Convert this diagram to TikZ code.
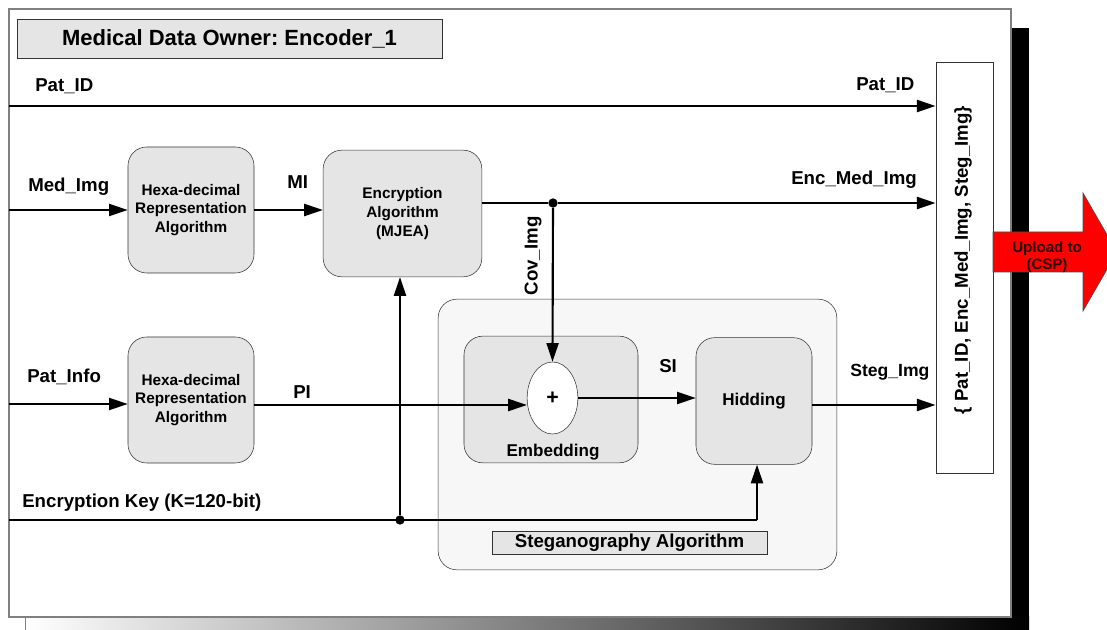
\documentclass[tikz,border=0pt]{standalone}
\usepackage{fontspec}
\setmainfont{Liberation Sans}
\usetikzlibrary{positioning,arrows.meta,shapes.geometric}
\frenchspacing

\begin{document}
\begin{tikzpicture}
[
x=0.75pt, y=-0.75pt,
frame-box/.style={draw=black!50, fill=white, line width=0.8pt},
title-box/.style={rectangle, draw=black!80, fill=black!10, minimum width=319pt, minimum height=29pt, font=\fontsize{16.5}{18}\selectfont\bfseries},
algo-box/.style={rectangle, rounded corners=14pt, draw=black!80, fill=black!10, minimum height=95pt, align=center, font=\fontsize{11.5}{14}\selectfont\bfseries},
stego-box/.style={rectangle, rounded corners=14pt, draw=black!80, fill=black!3, minimum width=299pt, minimum height=203pt},
inner-box/.style={algo-box, font=\fontsize{12.8}{15}\selectfont\bfseries},
plus-ell/.style={ellipse, draw=black!80, fill=white, minimum width=38pt, minimum height=54pt, inner sep=0pt, font=\fontsize{16}{18}\selectfont\bfseries},
label-box/.style={rectangle, draw=black!80, fill=black!10, minimum width=206pt, minimum height=17pt, inner sep=1pt, font=\fontsize{14}{15}\selectfont\bfseries},
out-box/.style={rectangle, draw=black!80, fill=white, minimum width=43pt, minimum height=308pt},
text-a/.style={anchor=base west, inner sep=0pt, font=\fontsize{14}{16}\selectfont\bfseries},
text-b/.style={inner sep=0pt, font=\fontsize{14}{16}\selectfont\bfseries},
line-a/.style={line width=1.6pt},
arrow-a/.style={line width=1.6pt, -{Triangle[length=14pt,width=9pt]}},
joint/.style={circle, fill=black, inner sep=0pt, minimum size=7pt}
]
\useasboundingbox (0,0) rectangle (1107,630);

% shadow and frame
\fill [black] (1011,28) rectangle (1029,630);
\shade [left color=white, right color=black] (25,617) rectangle (1029,630);
\draw [black!50] (25,617) -- (25,630);
\draw [frame-box] (9,9) rectangle (1011,617);

% blocks
\node (title)      [title-box]                                      at (229.5,38.5) {Medical Data Owner: Encoder\_1};
\node (hexa-mi)    [algo-box, minimum width=94.5pt, minimum height=94.5pt] at (191,210)  {Hexa-decimal\\Representation\\Algorithm};
\node (enc-alg)    [algo-box, minimum width=119pt]                  at (402.5,213.5) {Encryption\\Algorithm\\(MJEA)};
\node (hexa-pi)    [algo-box, minimum width=94.5pt, minimum height=94.5pt] at (191,400)  {Hexa-decimal\\Representation\\Algorithm};
\node (stego)      [stego-box]                                      at (637.5,434.5) {};
\node (embed)      [inner-box, minimum width=130.5pt]               at (551,399.5) {};
\node (plus)       [plus-ell]                                       at (552.5,398) {+};
\node (embed-txt)  [text-b, font=\fontsize{12.8}{15}\selectfont\bfseries] at (553,452) {Embedding};
\node (hidding)    [inner-box, minimum width=87pt]                  at (754,401) {Hidding};
\node (steg-alg)   [label-box]                                      at (629.5,542.5) {Steganography Algorithm};
\node (output)     [out-box]                                        at (964.5,267.5) {};
\node (output-txt) [text-b, rotate=90]                              at (963,260) {\{ Pat\_ID, Enc\_Med\_Img, Steg\_Img\}};

% inputs and joints
\coordinate (pat-id-in)   at (9,106);
\coordinate (med-img-in)  at (9,210);
\coordinate (pat-info-in) at (9,404);
\coordinate (key-in)      at (9,520);
\coordinate (pi-out)      at (254,405);
\coordinate (steg-out)    at (812,405);
\coordinate (key-turn)    at (757,520);
\node (cov-dot) [joint] at (553,203) {};
\node (key-dot) [joint] at (400,520) {};

% connectors
\draw [arrow-a] (pat-id-in) -- (pat-id-in -| output.west);
\draw [arrow-a] (med-img-in) -- (hexa-mi.west |- med-img-in);
\draw [arrow-a] (hexa-mi.east) -- (hexa-mi.east -| enc-alg.west);
\draw [line-a]  (enc-alg.east |- cov-dot) -- (cov-dot);
\draw [arrow-a] (cov-dot) -- (cov-dot -| output.west);
\draw [arrow-a] (cov-dot) -- (plus.north);
\draw [arrow-a] (pat-info-in) -- (hexa-pi.west |- pat-info-in);
\draw [arrow-a] (pi-out) -- (pi-out -| plus.west);
\draw [arrow-a] (plus.east) -- (plus.east -| hidding.west);
\draw [arrow-a] (steg-out) -- (steg-out -| output.west);
\draw [line-a]  (key-in) -- (key-turn);
\draw [arrow-a] (key-turn) -- (key-turn |- hidding.south);
\draw [arrow-a] (key-dot) -- (key-dot |- enc-alg.south);

% labels
\node (lbl-pat-id)   [text-a] at (35,92)   {Pat\_ID};
\node (lbl-pat-id-r) [text-a] at (856,91)  {Pat\_ID};
\node (lbl-med-img)  [text-a] at (28,192)  {Med\_Img};
\node (lbl-mi)       [text-a] at (287,189) {MI};
\node (lbl-enc-med)  [text-a] at (791,185) {Enc\_Med\_Img};
\node (lbl-cov-img)  [text-b, rotate=90] at (533,256) {Cov\_Img};
\node (lbl-pat-info) [text-a] at (27,383)  {Pat\_Info};
\node (lbl-pi)       [text-a] at (293,399) {PI};
\node (lbl-si)       [text-a] at (659,373) {SI};
\node (lbl-steg-img) [text-a, font=\fontsize{13.2}{15}\selectfont\bfseries] at (850,377) {Steg\_Img};
\node (lbl-key)      [text-a] at (22,508)  {Encryption Key (K=120-bit)};

% upload arrow
\filldraw [fill=red, draw=black!70, line width=0.5pt]
  (993,232) -- (1083,232) -- (1083,193) -- (1117,252) -- (1083,311) -- (1083,272) -- (993,272) -- cycle;
\node (upload) [align=center, font=\fontsize{11.3}{12.8}\selectfont\bfseries, text=black!85!red] at (1047,257) {Upload to\\(CSP)};

\end{tikzpicture}
\end{document}
